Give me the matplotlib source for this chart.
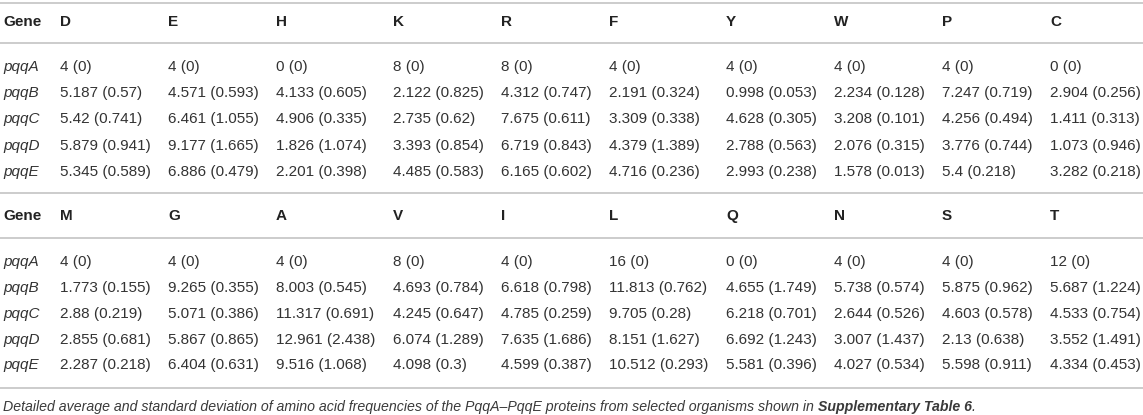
import matplotlib.pyplot as plt

# amino acid columns, two blocks of ten
aa_top = ["D", "E", "H", "K", "R", "F", "Y", "W", "P", "C"]
aa_bottom = ["M", "G", "A", "V", "I", "L", "Q", "N", "S", "T"]
genes = ["pqqA", "pqqB", "pqqC", "pqqD", "pqqE"]

# mean (sd) per gene, same order as the columns
top_cells = [
    ["4 (0)", "4 (0)", "0 (0)", "8 (0)", "8 (0)", "4 (0)", "4 (0)", "4 (0)", "4 (0)", "0 (0)"],
    ["5.187 (0.57)", "4.571 (0.593)", "4.133 (0.605)", "2.122 (0.825)", "4.312 (0.747)",
     "2.191 (0.324)", "0.998 (0.053)", "2.234 (0.128)", "7.247 (0.719)", "2.904 (0.256)"],
    ["5.42 (0.741)", "6.461 (1.055)", "4.906 (0.335)", "2.735 (0.62)", "7.675 (0.611)",
     "3.309 (0.338)", "4.628 (0.305)", "3.208 (0.101)", "4.256 (0.494)", "1.411 (0.313)"],
    ["5.879 (0.941)", "9.177 (1.665)", "1.826 (1.074)", "3.393 (0.854)", "6.719 (0.843)",
     "4.379 (1.389)", "2.788 (0.563)", "2.076 (0.315)", "3.776 (0.744)", "1.073 (0.946)"],
    ["5.345 (0.589)", "6.886 (0.479)", "2.201 (0.398)", "4.485 (0.583)", "6.165 (0.602)",
     "4.716 (0.236)", "2.993 (0.238)", "1.578 (0.013)", "5.4 (0.218)", "3.282 (0.218)"],
]
bottom_cells = [
    ["4 (0)", "4 (0)", "4 (0)", "8 (0)", "4 (0)", "16 (0)", "0 (0)", "4 (0)", "4 (0)", "12 (0)"],
    ["1.773 (0.155)", "9.265 (0.355)", "8.003 (0.545)", "4.693 (0.784)", "6.618 (0.798)",
     "11.813 (0.762)", "4.655 (1.749)", "5.738 (0.574)", "5.875 (0.962)", "5.687 (1.224)"],
    ["2.88 (0.219)", "5.071 (0.386)", "11.317 (0.691)", "4.245 (0.647)", "4.785 (0.259)",
     "9.705 (0.28)", "6.218 (0.701)", "2.644 (0.526)", "4.603 (0.578)", "4.533 (0.754)"],
    ["2.855 (0.681)", "5.867 (0.865)", "12.961 (2.438)", "6.074 (1.289)", "7.635 (1.686)",
     "8.151 (1.627)", "6.692 (1.243)", "3.007 (1.437)", "2.13 (0.638)", "3.552 (1.491)"],
    ["2.287 (0.218)", "6.404 (0.631)", "9.516 (1.068)", "4.098 (0.3)", "4.599 (0.387)",
     "10.512 (0.293)", "5.581 (0.396)", "4.027 (0.534)", "5.598 (0.911)", "4.334 (0.453)"],
]
caption = "Detailed average and standard deviation of amino acid frequencies of the PqqA\u2013PqqE proteins from selected organisms shown in "
caption_bold = "Supplementary Table 6"

plt.rcParams['font.family'] = ['Liberation Sans', 'DejaVu Sans']

W, H = 1143, 415
fig = plt.figure(figsize=(W / 100, H / 100), dpi=100)
ax = fig.add_axes([0, 0, 1, 1])
ax.set_xlim(0, W)
ax.set_ylim(H, 0)
ax.axis('off')

col_x = [60, 168, 276, 393, 501, 609, 726, 834, 942, 1050]
gene_x = 3
fs = 11
txt_col = "#333333"
rule_col = "#c8c8c8"


def rule(y):
    ax.plot([0, W], [y, y], color=rule_col, lw=1.3, solid_capstyle='butt')


def block(aas, cells, y_head, y_rows):
    ax.text(gene_x, y_head, "Gene", fontsize=fs, fontweight='bold', color="#222222", va='center')
    for x, aa in zip(col_x, aas):
        ax.text(x, y_head, aa, fontsize=fs, fontweight='bold', color="#222222", va='center')
    for y, g, row in zip(y_rows, genes, cells):
        ax.text(gene_x, y, g, fontsize=fs, style='italic', color=txt_col, va='center')
        for x, c in zip(col_x, row):
            ax.text(x, y, c, fontsize=fs, color=txt_col, va='center')


rule(3)
block(aa_top, top_cells, 22, [67, 93, 119, 146, 172])
rule(43)
rule(193)
block(aa_bottom, bottom_cells, 216, [262, 288, 314, 340, 365])
rule(238)
rule(388)

cap_fs = 10.15
cap_col = "#3a3a3a"
t1 = ax.text(gene_x, 407, caption, fontsize=cap_fs, style='italic', color=cap_col, va='center')
fig.canvas.draw()
bb = t1.get_window_extent().transformed(ax.transData.inverted())
t2 = ax.text(bb.x1, 407, caption_bold, fontsize=cap_fs, style='italic', fontweight='bold',
             color=cap_col, va='center')
fig.canvas.draw()
bb2 = t2.get_window_extent().transformed(ax.transData.inverted())
ax.text(bb2.x1, 407, ".", fontsize=cap_fs, style='italic', color=cap_col, va='center')

fig.savefig("out.png", dpi=100)
